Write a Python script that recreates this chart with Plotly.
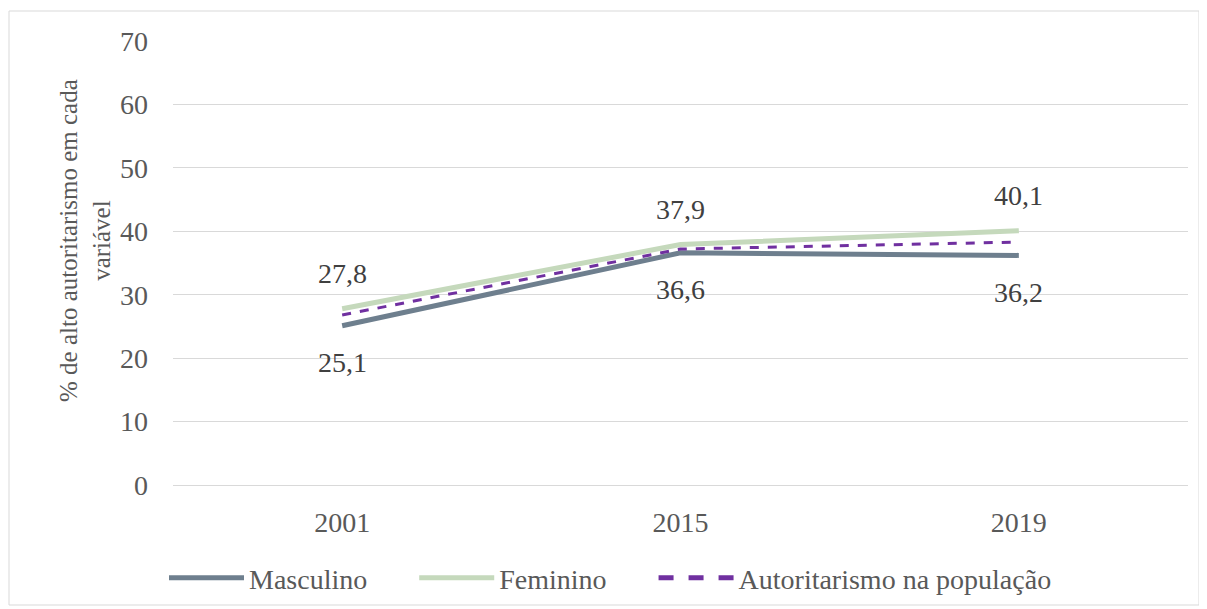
import plotly.graph_objects as go

anos = ["2001", "2015", "2019"]
masculino = [25.1, 36.6, 36.2]
feminino = [27.8, 37.9, 40.1]
populacao = [26.8, 37.2, 38.3]
y_ticks = [0, 10, 20, 30, 40, 50, 60, 70]

FONT = "Liberation Serif, Times New Roman, serif"
TXT = "#595959"
FS = 28
PAD = "\u00a0" * 6

fig = go.Figure()
fig.add_trace(go.Scatter(x=anos, y=masculino, name="Masculino" + PAD, mode="lines",
                         line=dict(color="#6E7F8E", width=5)))
fig.add_trace(go.Scatter(x=anos, y=feminino, name="Feminino" + PAD, mode="lines",
                         line=dict(color="#C5D9BC", width=5)))
fig.add_trace(go.Scatter(x=anos, y=populacao, name="Autoritarismo na população", mode="lines",
                         line=dict(color="#7030A0", width=3, dash="dash")))

for i, v in enumerate(feminino):
    fig.add_annotation(x=i, y=v, text=f"{v:.1f}".replace(".", ","), showarrow=False,
                       yshift=35, font=dict(family=FONT, size=FS, color="#404040"))
for i, v in enumerate(masculino):
    fig.add_annotation(x=i, y=v, text=f"{v:.1f}".replace(".", ","), showarrow=False,
                       yshift=-37, font=dict(family=FONT, size=FS, color="#404040"))

OFF = 8  # default page body margin
W, H = 1207 - OFF, 609 - OFF
L, R, T, B = 173 - OFF, 19, 41 - OFF, 124
pw, ph = W - L - R, H - T - B
def px(xp): return (xp - OFF - L) / pw
def py(yp): return (H - B - (yp - OFF)) / ph

fig.add_shape(type="rect", xref="paper", yref="paper",
              x0=px(9), x1=px(1199), y0=py(605), y1=py(11),
              line=dict(color="#D9D9D9", width=1), layer="below")

fig.add_annotation(xref="paper", yref="paper", x=px(85), y=py(241),
                   xanchor="center", yanchor="middle", textangle=-90, showarrow=False,
                   text="% de alto autoritarismo em cada<br>variável",
                   font=dict(family=FONT, size=25, color=TXT))

fig.update_layout(
    width=W, height=H,
    margin=dict(l=L, r=R, t=T, b=B, autoexpand=False),
    paper_bgcolor="white", plot_bgcolor="white",
    font=dict(family=FONT, size=FS, color=TXT),
    showlegend=True,
    legend=dict(orientation="h", x=px(164), xanchor="left", y=py(578), yanchor="middle",
                itemwidth=75, font=dict(family=FONT, size=FS, color=TXT),
                tracegroupgap=0, itemsizing="constant"),
    xaxis=dict(type="category", range=[-0.5, 2.5], showgrid=False, showline=True,
               linecolor="#D9D9D9", linewidth=1, ticks="", ticklabelstandoff=12,
               tickfont=dict(family=FONT, size=FS, color=TXT)),
    yaxis=dict(range=[0, 70], tickvals=y_ticks, showgrid=True, gridcolor="#D9D9D9",
               gridwidth=1, zeroline=False, showline=False, ticks="",
               ticklabelstandoff=24, tickfont=dict(family=FONT, size=FS, color=TXT)),
)

fig.write_html("out.html")
